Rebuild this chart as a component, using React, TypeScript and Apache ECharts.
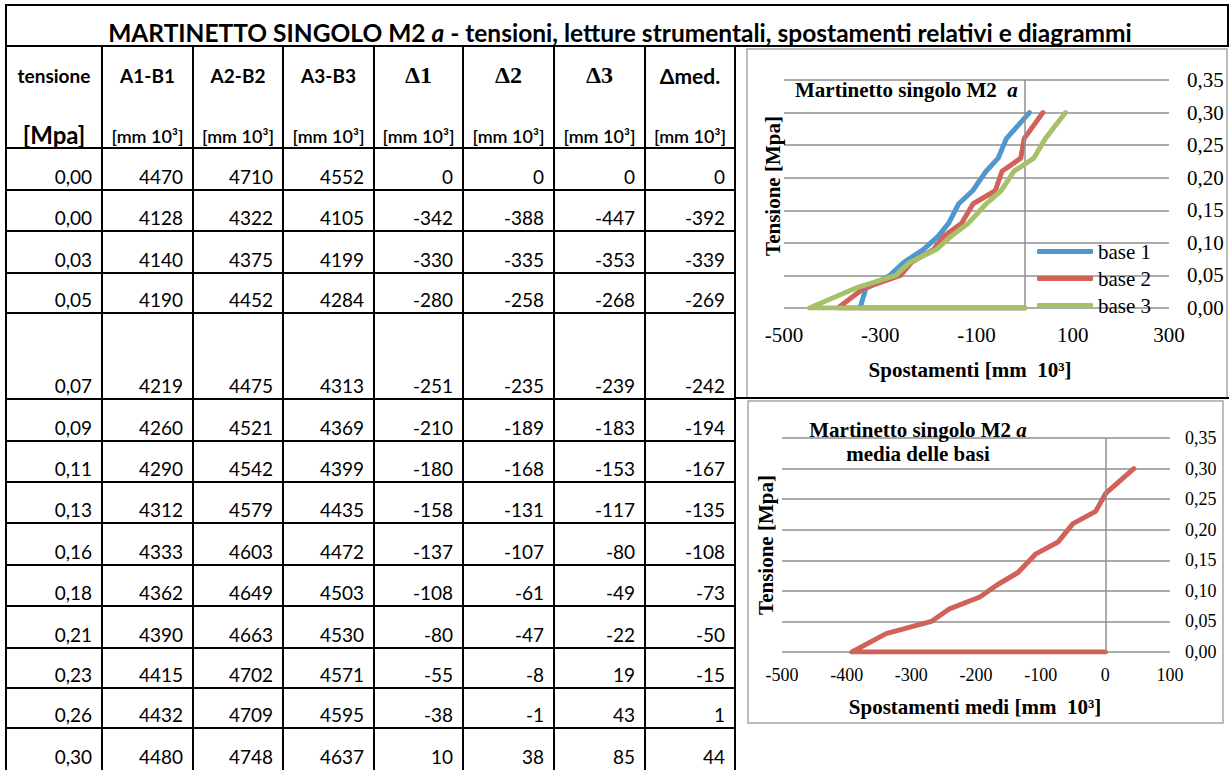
import React, { useEffect, useRef } from "react";
import * as echarts from "echarts";

// ---- data ----
const tensione = [0, 0, 0.03, 0.05, 0.07, 0.09, 0.11, 0.13, 0.16, 0.18, 0.21, 0.23, 0.26, 0.3];
const a1b1 = [4470, 4128, 4140, 4190, 4219, 4260, 4290, 4312, 4333, 4362, 4390, 4415, 4432, 4480];
const a2b2 = [4710, 4322, 4375, 4452, 4475, 4521, 4542, 4579, 4603, 4649, 4663, 4702, 4709, 4748];
const a3b3 = [4552, 4105, 4199, 4284, 4313, 4369, 4399, 4435, 4472, 4503, 4530, 4571, 4595, 4637];
const delta1 = [0, -342, -330, -280, -251, -210, -180, -158, -137, -108, -80, -55, -38, 10];
const delta2 = [0, -388, -335, -258, -235, -189, -168, -131, -107, -61, -47, -8, -1, 38];
const delta3 = [0, -447, -353, -268, -239, -183, -153, -117, -80, -49, -22, 19, 43, 85];
const deltaMed = [0, -392, -339, -269, -242, -194, -167, -135, -108, -73, -50, -15, 1, 44];

const headerTop = ["tensione", "A1-B1", "A2-B2", "A3-B3", "Δ1", "Δ2", "Δ3", "Δmed."];
const headerBottom = ["[Mpa]", "[mm 10³]", "[mm 10³]", "[mm 10³]", "[mm 10³]", "[mm 10³]", "[mm 10³]", "[mm 10³]"];
const seriesNames = ["base 1", "base 2", "base 3"];
const seriesColors = ["#4f97cf", "#d0625a", "#a6c16a"];
const xTicks1 = [-500, -300, -100, 100, 300];
const xTicks2 = [-500, -400, -300, -200, -100, 0, 100];

const titleMain = "MARTINETTO SINGOLO M2 ";
const titleItalic = "a";
const titleRest = " - tensioni, letture strumentali, spostamenti relativi e diagrammi";

// ---- layout ----
const COLS = [6, 102, 193, 283, 374, 463, 554, 645, 735];
const ROW_BOTTOMS = [190, 231, 273, 313, 399, 441, 482, 523, 565, 606, 648, 688, 728, 770];
const SANS = "Lato";
const SERIF = "Liberation Serif";

const fmtT = (v: number) => v.toFixed(2).replace(".", ",");

function buildGraphic() {
  const els: any[] = [];
  const ln = (x1: number, y1: number, x2: number, y2: number, w = 2, c = "#000", z = 10) =>
    els.push({ type: "line", z, silent: true, shape: { x1, y1, x2, y2 }, style: { stroke: c, lineWidth: w } });
  const tx = (x: number, y: number, text: string, o: any = {}) =>
    els.push({
      type: "text",
      z: 20,
      silent: true,
      x,
      y,
      rotation: o.rotation || 0,
      style: {
        text,
        fill: "#000",
        fontFamily: o.fontFamily || SANS,
        fontSize: o.fontSize || 19,
        fontWeight: o.fontWeight || "normal",
        fontStyle: o.fontStyle || "normal",
        align: o.align || "center",
        verticalAlign: "middle",
        rich: o.rich,
      },
    });

  // chart frames
  els.push({ type: "rect", z: -1, silent: true, shape: { x: 747, y: 49, width: 480, height: 349 }, style: { fill: "none", stroke: "#a6a6a6", lineWidth: 1.5 } });
  els.push({ type: "rect", z: -1, silent: true, shape: { x: 748, y: 401, width: 475, height: 322 }, style: { fill: "none", stroke: "#a6a6a6", lineWidth: 1.5 } });

  // table lines
  ln(6, 5, 1229, 5);
  ln(6, 46, 1229, 46);
  ln(6, 148, COLS[8], 148);
  ROW_BOTTOMS.forEach((y, i) => {
    if (i < ROW_BOTTOMS.length - 1) ln(6, y, COLS[8], y);
  });
  ln(COLS[8], 398, 1229, 398);
  ln(6, 4, 6, 770);
  ln(1228, 4, 1228, 46);
  COLS.slice(1).forEach((x) => ln(x, 46, x, 770));

  // title
  tx(620, 32, `{b|${titleMain}}{i|${titleItalic}}{b|${titleRest}}`, {
    rich: {
      b: { fontFamily: SANS, fontSize: 24.5, fontWeight: "bold", fill: "#000" },
      i: { fontFamily: SANS, fontSize: 24.5, fontWeight: "bold", fontStyle: "italic", fill: "#000" },
    },
  });

  // headers
  headerTop.forEach((h, c) => {
    const cx = (COLS[c] + COLS[c + 1]) / 2;
    const isDeltaNum = c >= 4 && c <= 6;
    tx(cx, 75, h, {
      fontFamily: isDeltaNum ? SERIF : SANS,
      fontSize: isDeltaNum ? 24 : c === 7 ? 21 : 19,
      fontWeight: "bold",
    });
    const hb = headerBottom[c];
    if (c === 0) tx(cx, 134, hb, { fontSize: 24, fontWeight: "bold" });
    else tx(cx, 136, hb, { fontSize: 18, fontWeight: "600" });
  });

  // cells
  const cols = [tensione.map(fmtT), a1b1, a2b2, a3b3, delta1, delta2, delta3, deltaMed];
  cols.forEach((col, c) => {
    col.forEach((v: any, r: number) => {
      tx(COLS[c + 1] - 10, ROW_BOTTOMS[r] - 14, String(v), { align: "right", fontSize: 19 });
    });
  });

  // chart 1 texts
  tx(795, 90, `{b|Martinetto singolo M2  }{i|a}`, {
    align: "left",
    rich: {
      b: { fontFamily: SERIF, fontSize: 21, fontWeight: "bold", fill: "#000" },
      i: { fontFamily: SERIF, fontSize: 21, fontWeight: "bold", fontStyle: "italic", fill: "#000" },
    },
  });
  tx(970, 370, "Spostamenti [mm  10³]", { fontFamily: SERIF, fontSize: 21, fontWeight: "bold" });
  tx(773, 186, "Tensione [Mpa]", { fontFamily: SERIF, fontSize: 21, fontWeight: "bold", rotation: Math.PI / 2 });

  // chart 2 texts
  tx(918, 430, `{b|Martinetto singolo M2 }{i|a}`, {
    rich: {
      b: { fontFamily: SERIF, fontSize: 21, fontWeight: "bold", fill: "#000" },
      i: { fontFamily: SERIF, fontSize: 21, fontWeight: "bold", fontStyle: "italic", fill: "#000" },
    },
  });
  tx(918, 454, "media delle basi", { fontFamily: SERIF, fontSize: 21, fontWeight: "bold" });
  tx(975, 707, "Spostamenti medi [mm  10³]", { fontFamily: SERIF, fontSize: 21, fontWeight: "bold" });
  tx(766, 545, "Tensione [Mpa]", { fontFamily: SERIF, fontSize: 21, fontWeight: "bold", rotation: Math.PI / 2 });

  return els;
}

export default function App() {
  const ref = useRef<HTMLDivElement>(null);
  useEffect(() => {
    if (!ref.current) return;
    const chart = echarts.init(ref.current, undefined, { renderer: "svg" });
    const gridLine = { show: true, lineStyle: { color: "#8f8f8f", width: 1.5 } };
    const zeroLine = {
      silent: true,
      symbol: "none",
      label: { show: false },
      lineStyle: { color: "#8f8f8f", width: 1.5, type: "solid" },
      data: [{ xAxis: 0 }],
    };
    const deltas = [delta1, delta2, delta3];
    chart.setOption({
      animation: false,
      backgroundColor: "#fff",
      graphic: buildGraphic(),
      legend: {
        data: seriesNames,
        orient: "vertical",
        left: 1037,
        top: 241,
        padding: 0,
        itemWidth: 56,
        itemHeight: 5,
        itemGap: 6,
        icon: "roundRect",
        textStyle: { fontFamily: SERIF, fontSize: 21, color: "#000", lineHeight: 20 },
      },
      grid: [
        { left: 784, top: 80, width: 385, height: 228 },
        { left: 782, top: 438, width: 388, height: 214 },
      ],
      xAxis: [
        {
          type: "value",
          gridIndex: 0,
          min: -500,
          max: 300,
          interval: 100,
          axisLine: { show: false },
          axisTick: { show: false },
          splitLine: { show: false },
          axisLabel: {
            margin: 16,
            fontFamily: SERIF,
            fontSize: 21,
            color: "#000",
            formatter: (v: number) => (xTicks1.includes(v) ? String(v) : ""),
          },
        },
        {
          type: "value",
          gridIndex: 1,
          min: -500,
          max: 100,
          interval: 100,
          axisLine: { show: false },
          axisTick: { show: false },
          splitLine: { show: false },
          axisLabel: {
            margin: 14,
            fontFamily: SERIF,
            fontSize: 18,
            color: "#000",
            formatter: (v: number) => (xTicks2.includes(v) ? String(v) : ""),
          },
        },
      ],
      yAxis: [
        {
          type: "value",
          gridIndex: 0,
          position: "right",
          min: 0,
          max: 0.35,
          interval: 0.05,
          axisLine: { show: false },
          axisTick: { show: false },
          splitLine: gridLine,
          axisLabel: { margin: 18, fontFamily: SERIF, fontSize: 21, color: "#000", formatter: fmtT },
        },
        {
          type: "value",
          gridIndex: 1,
          position: "right",
          min: 0,
          max: 0.35,
          interval: 0.05,
          axisLine: { show: false },
          axisTick: { show: false },
          splitLine: gridLine,
          axisLabel: { margin: 15, fontFamily: SERIF, fontSize: 18, color: "#000", formatter: fmtT },
        },
      ],
      series: [
        ...deltas.map((d, k) => ({
          name: seriesNames[k],
          type: "line",
          xAxisIndex: 0,
          yAxisIndex: 0,
          symbol: "none",
          color: seriesColors[k],
          lineStyle: { width: 5, color: seriesColors[k], cap: "round", join: "round" },
          data: d.map((x, i) => [x, tensione[i]]),
          markLine: k === 0 ? zeroLine : undefined,
          z: 3 + k,
        })),
        {
          name: "media",
          type: "line",
          xAxisIndex: 1,
          yAxisIndex: 1,
          symbol: "none",
          color: seriesColors[1],
          lineStyle: { width: 5, color: seriesColors[1], cap: "round", join: "round" },
          data: deltaMed.map((x, i) => [x, tensione[i]]),
          markLine: zeroLine,
          z: 3,
        },
      ],
    });
    return () => chart.dispose();
  }, []);
  return <div ref={ref} style={{ position: "absolute", left: 0, top: 0, width: 1229, height: 770 }} />;
}
